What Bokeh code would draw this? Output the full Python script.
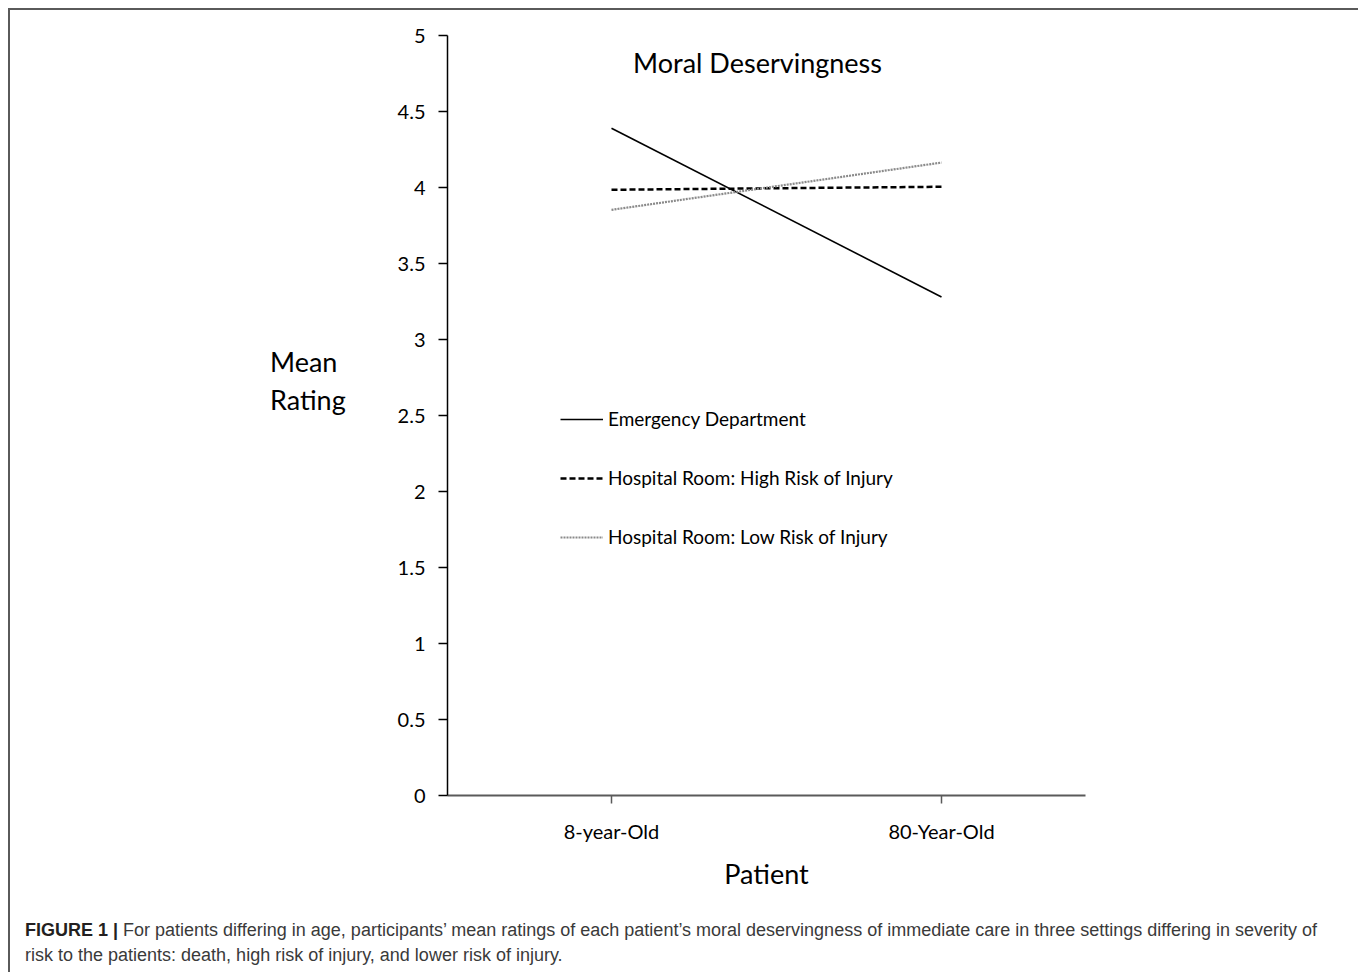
from bokeh.plotting import figure
from bokeh.models import (Range1d, FixedTicker, Label, Legend, LegendItem, Div)
from bokeh.layouts import column, row
from bokeh.embed import file_html
from bokeh.resources import INLINE

# ---- data ----
patients = ["8-year-Old", "80-Year-Old"]
x_pos = [0, 1]
emergency = [4.39, 3.28]
high_risk = [3.985, 4.005]
low_risk = [3.853, 4.164]
y_ticks = [0, 0.5, 1, 1.5, 2, 2.5, 3, 3.5, 4, 4.5, 5]
y_tick_labels = ["0", "0.5", "1", "1.5", "2", "2.5", "3", "3.5", "4", "4.5", "5"]

FONT = "Lato"
CAP = "Liberation Sans"

# page geometry (pixels)
OX, OY = 10, 10                  # inner origin of bordered box
FL, FR, FT, FB = 447, 1085, 35, 795   # frame in page pixels
LEFT_W = 360                     # width of "Mean Rating" column
P_LEFT = 380
P_W = 1347 - LEFT_W - 10
P_H = 900 - OY
X0_PX, X1_PX = 611, 941
ppx = X1_PX - X0_PX
x_start = (FL - X0_PX) / ppx
x_end = (FR - X0_PX) / ppx

p = figure(width=P_W, height=P_H, output_backend="svg", toolbar_location=None,
           x_range=Range1d(x_start, x_end), y_range=Range1d(0, 5),
           min_border_left=FL - P_LEFT, min_border_right=P_LEFT + P_W - FR,
           min_border_top=FT - OY, min_border_bottom=OY + P_H - FB)
p.grid.visible = False
p.outline_line_color = None
p.background_fill_color = "white"
p.border_fill_color = "white"

# axes
ya = p.yaxis[0]
ya.ticker = FixedTicker(ticks=y_ticks)
ya.major_label_overrides = {t: l for t, l in zip(y_ticks, y_tick_labels)}
ya.minor_tick_line_color = None
ya.axis_line_color = "black"
ya.axis_line_width = 1.5
ya.major_tick_line_color = "black"
ya.major_tick_line_width = 1.5
ya.major_tick_out = 9
ya.major_tick_in = 0
ya.major_label_standoff = 13
ya.major_label_text_font = FONT
ya.major_label_text_font_size = "20px"
ya.major_label_text_color = "black"

xa = p.xaxis[0]
xa.ticker = FixedTicker(ticks=x_pos)
xa.major_label_overrides = {x: n for x, n in zip(x_pos, patients)}
xa.minor_tick_line_color = None
xa.axis_line_color = "#5a5a5a"
xa.axis_line_width = 2
xa.major_tick_line_color = "#5a5a5a"
xa.major_tick_line_width = 1.5
xa.major_tick_out = 8
xa.major_tick_in = 0
xa.major_label_standoff = 15
xa.major_label_text_font = FONT
xa.major_label_text_font_size = "20px"
xa.major_label_text_color = "black"
xa.axis_label = "Patient"
xa.axis_label_text_font = FONT
xa.axis_label_text_font_size = "27px"
xa.axis_label_text_font_style = "normal"
xa.axis_label_text_color = "black"
xa.axis_label_standoff = 11

# lines
r1 = p.line(x_pos, emergency, line_color="black", line_width=1.6)
r2 = p.line(x_pos, high_risk, line_color="black", line_width=2.5, line_dash="6 3")
r3 = p.line(x_pos, low_risk, line_color="#8a8a8a", line_width=2.2, line_dash="2 1")

legend = Legend(items=[
    LegendItem(label="Emergency Department", renderers=[r1]),
    LegendItem(label="Hospital Room: High Risk of Injury", renderers=[r2]),
    LegendItem(label="Hospital Room: Low Risk of Injury", renderers=[r3]),
], location=(113, 247), orientation="vertical",
    glyph_width=43, glyph_height=20, label_height=20, spacing=36,
    label_standoff=5, padding=0, margin=0,
    border_line_color=None, background_fill_alpha=0,
    label_text_font=FONT, label_text_font_size="19px", label_text_color="black")
p.add_layout(legend, "center")

p.add_layout(Label(x=757 - FL, y=FB - 62, x_units="screen", y_units="screen",
                   text="Moral Deservingness", text_font=FONT, text_font_size="27px",
                   text_align="center", text_baseline="middle", text_color="black"))

mean_div = Div(width=LEFT_W, height=P_H, text=(
    '<div style="padding-left:%dpx;padding-top:%dpx;font-family:Lato;font-size:27px;'
    'line-height:38px;color:black;white-space:nowrap">Mean<br>Rating</div>' % (271 - OX - 6, 343 - OY - 5)))

cap_div = Div(width=1347, height=80, text=(
    '<div style="padding-left:10px;padding-top:3px;font-family:\'Liberation Sans\';'
    'font-size:18px;line-height:25px;color:#3a3a3a;white-space:nowrap">'
    '<b style="color:#231f20">FIGURE 1 |</b> For patients differing in age, participants\u2019 mean '
    'ratings of each patient\u2019s moral deservingness of immediate care in three settings differing '
    'in severity of<br>risk to the patients: death, high risk of injury, and lower risk of injury.</div>'))

root = column(row(mean_div, p), cap_div,
              styles={"border-left": "2px solid #5a5a5a", "border-top": "2px solid #5a5a5a",
                      "border-right": "2px solid #5a5a5a", "margin-left": "8px",
                      "margin-top": "8px"})

open("out.html", "w").write(file_html(root, INLINE))
